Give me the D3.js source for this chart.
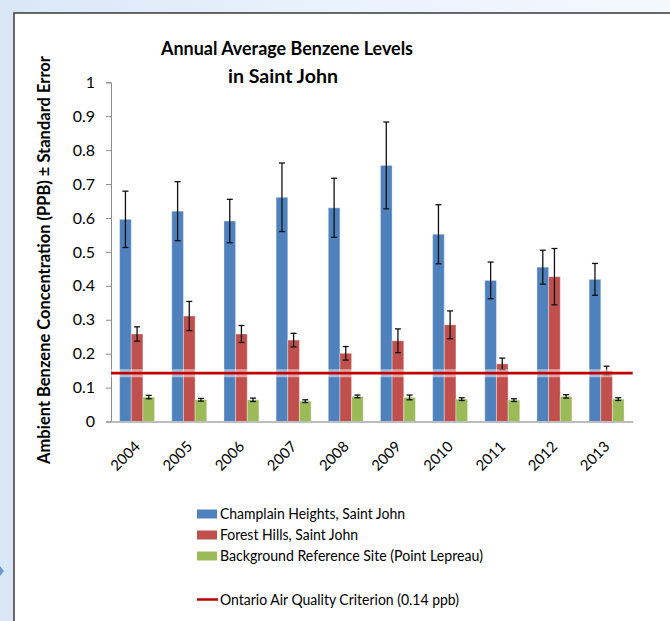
<!DOCTYPE html>
<html><head><meta charset="utf-8">
<script src="https://cdn.jsdelivr.net/npm/d3@7"></script>
<style>
html,body{margin:0;padding:0;background:#fff;}
svg{display:block;}
text{font-family:"Lato","Open Sans",sans-serif;}
</style></head>
<body>
<svg id="c" width="670" height="621"></svg>
<script>
const years = ["2004","2005","2006","2007","2008","2009","2010","2011","2012","2013"];
const seriesNames = ["Champlain Heights, Saint John","Forest Hills, Saint John","Background Reference Site (Point Lepreau)"];
const champlain = [0.596,0.620,0.591,0.661,0.630,0.755,0.552,0.416,0.455,0.419];
const champlainSE = [0.083,0.087,0.064,0.101,0.087,0.128,0.087,0.054,0.050,0.047];
const forest = [0.258,0.311,0.258,0.240,0.201,0.238,0.285,0.170,0.427,0.150];
const forestSE = [0.021,0.043,0.025,0.020,0.020,0.035,0.041,0.017,0.083,0.013];
const background = [0.072,0.064,0.064,0.060,0.074,0.071,0.066,0.063,0.074,0.066];
const backgroundSE = [0.005,0.004,0.005,0.004,0.004,0.007,0.004,0.004,0.005,0.004];
const yTicks = [0,0.1,0.2,0.3,0.4,0.5,0.6,0.7,0.8,0.9,1];
const criterion = 0.14;
const criterionLabel = "Ontario Air Quality Criterion (0.14 ppb)";
const colors = ["#4F81BD","#C0504D","#9BBB59"];

const svg = d3.select("#c");
// background
const defs = svg.append("defs");
const g1 = defs.append("linearGradient").attr("id","bg").attr("x1","0").attr("y1","0").attr("x2","1").attr("y2","0");
g1.append("stop").attr("offset","0").attr("stop-color","#d9e7f6");
g1.append("stop").attr("offset","0.5").attr("stop-color","#eaf2fc");
g1.append("stop").attr("offset","1").attr("stop-color","#f3f8fe");
svg.append("rect").attr("width",670).attr("height",621).attr("fill","url(#bg)");
svg.append("rect").attr("x",14).attr("y",13).attr("width",700).attr("height",700).attr("fill","#fff")
  .attr("stroke","#444").attr("stroke-width",1.6);
svg.append("path").attr("d","M0,566 L4,571 L0,576 Z").attr("fill","#6b9bd2");

const x = d3.scaleBand().domain(years).range([111,632.7]).paddingInner(0.33).paddingOuter(0.165);
const xs = d3.scaleBand().domain([0,1,2]).range([0,x.bandwidth()]);
const y = d3.scaleLinear().domain([0,1]).range([421.5,82.3]);

// y axis
const yAxis = d3.axisLeft(y).tickValues(yTicks).tickSize(5).tickFormat(d=>d3.format("")(d));
const ya = svg.append("g").attr("transform","translate(111,0)").call(yAxis);
ya.select(".domain").attr("stroke","#8c8c8c").attr("stroke-width",1);
ya.selectAll(".tick line").attr("stroke","#8c8c8c");
ya.selectAll(".tick text").attr("font-size",16).attr("fill","#000").attr("x",-16)
  .attr("font-family","Lato, sans-serif");

// bars
const data = [
  {v:champlain,se:champlainSE},
  {v:forest,se:forestSE},
  {v:background,se:backgroundSE}
];
data.forEach((s,si)=>{
  const g = svg.append("g");
  g.selectAll("rect").data(years).join("rect")
    .attr("x",(d)=>x(d)+xs(si))
    .attr("width",xs.bandwidth())
    .attr("y",(d,i)=>y(s.v[i]))
    .attr("height",(d,i)=>y(0)-y(s.v[i]))
    .attr("fill",colors[si])
    .attr("stroke","#ffffff").attr("stroke-opacity",0.35).attr("stroke-width",1);
});

// x axis
const xAxis = d3.axisBottom(x).tickSize(0).tickFormat(d=>d);
const xa = svg.append("g").attr("transform","translate(0,421.5)").call(xAxis);
xa.select(".domain").attr("stroke","#bdbdbd").attr("stroke-width",2);
xa.selectAll(".tick text").attr("font-size",14.8).attr("fill","#000")
  .attr("text-anchor","end").attr("dy",0).attr("y",0)
  .attr("transform","translate(4,26) rotate(-45)");

// error bars
data.forEach((s,si)=>{
  const g = svg.append("g").attr("stroke","#111").attr("stroke-width",1.3);
  years.forEach((yr,i)=>{
    const cx = x(yr)+xs(si)+xs.bandwidth()/2;
    const top = y(s.v[i]+s.se[i]), bot = y(s.v[i]-s.se[i]);
    g.append("line").attr("x1",cx).attr("x2",cx).attr("y1",top).attr("y2",bot);
    g.append("line").attr("x1",cx-3).attr("x2",cx+3).attr("y1",top).attr("y2",top);
    g.append("line").attr("x1",cx-3).attr("x2",cx+3).attr("y1",bot).attr("y2",bot);
  });
});

// criterion line
const cy = y(criterion)-0.8;
svg.append("line").attr("x1",111).attr("x2",632.7).attr("y1",cy).attr("y2",cy)
  .attr("stroke","#ffffff").attr("stroke-opacity",0.5).attr("stroke-width",8);
svg.append("line").attr("x1",111).attr("x2",632.7).attr("y1",cy).attr("y2",cy)
  .attr("stroke","#C00000").attr("stroke-width",2.8);

// title
svg.append("text").attr("x",287).attr("y",55).attr("text-anchor","middle")
  .attr("font-size",19.5).attr("font-weight","bold")
  .attr("textLength",252).attr("lengthAdjust","spacingAndGlyphs").text("Annual Average Benzene Levels");
svg.append("text").attr("x",283).attr("y",83).attr("text-anchor","middle")
  .attr("font-size",19.5).attr("font-weight","bold")
  .attr("textLength",110).attr("lengthAdjust","spacingAndGlyphs").text("in Saint John");

// y title
svg.append("text").attr("transform","translate(50,260) rotate(-90)").attr("text-anchor","middle")
  .attr("font-size",16.5).attr("font-weight","bold").text("Ambient Benzene Concentration (PPB) \u00b1 Standard Error");

// legend
const legY = [514,535,556];
const legW = [185,138,263];
seriesNames.forEach((n,i)=>{
  svg.append("rect").attr("x",197).attr("y",legY[i]-4.5).attr("width",20).attr("height",9).attr("fill",colors[i]);
  svg.append("text").attr("x",220).attr("y",legY[i]).attr("dy","0.35em").attr("font-size",15.5)
    .attr("textLength",legW[i]).attr("lengthAdjust","spacingAndGlyphs").text(n);
});
svg.append("line").attr("x1",197).attr("x2",218).attr("y1",599.5).attr("y2",599.5).attr("stroke","#C00000").attr("stroke-width",2.5);
svg.append("text").attr("x",220).attr("y",599.5).attr("dy","0.35em").attr("font-size",15.5)
  .attr("textLength",239).attr("lengthAdjust","spacingAndGlyphs").text(criterionLabel);
</script>
</body></html>
